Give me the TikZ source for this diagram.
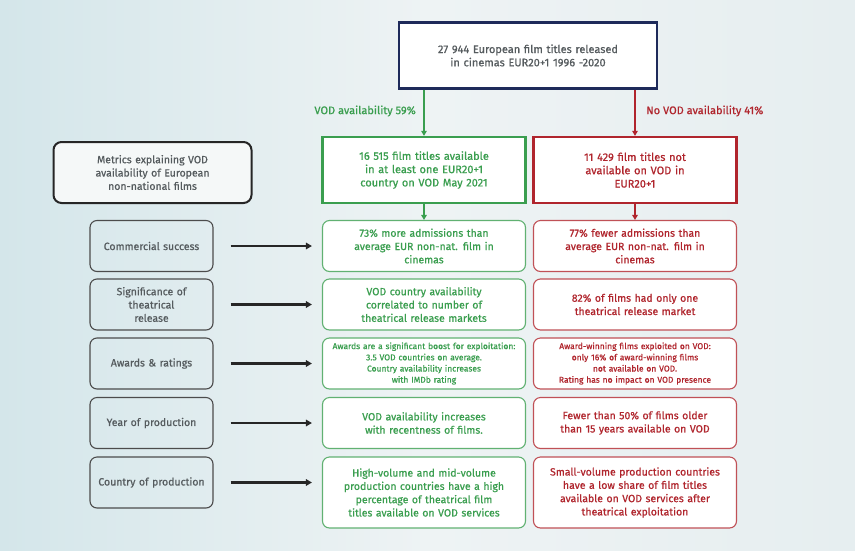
\documentclass[tikz,border=0pt]{standalone}
\usepackage{fontspec}
\setmainfont{Fira Sans}[FakeBold=0.7]
\usetikzlibrary{arrows.meta}
\definecolor{vodgreen}{HTML}{3A9E4F}
\definecolor{vodred}{HTML}{B0252D}
\definecolor{navy}{HTML}{1E2A5A}
\definecolor{txtgray}{HTML}{555B5E}
\definecolor{bgleft}{HTML}{D4E6EA}
\definecolor{bgmid}{HTML}{EEF3F4}
\definecolor{bgright}{HTML}{E6EEF0}
\tikzset{
  base/.style={align=center, inner sep=3pt, font=\fontsize{10.5}{13.3}\selectfont},
  bigtext/.style={font=\fontsize{11}{13.3}\selectfont},
  topbox/.style={base, bigtext, draw=navy, line width=2.2pt, fill=white, text=txtgray, text width=252pt, minimum height=66pt},
  mainbox/.style={base, bigtext, line width=2.2pt, fill=white, text width=197pt, minimum height=66pt},
  factbox/.style={base, rounded corners=7pt, line width=1.1pt, fill=white, text width=197pt, minimum height=51pt},
  smallfact/.style={font=\fontsize{8.5}{11.2}\selectfont},
  metricbox/.style={base, rounded corners=8pt, draw=black!85, line width=2pt, fill=white!40!bgmid, text=txtgray, text width=192pt, minimum height=61pt},
  rowbox/.style={base, rounded corners=7pt, draw=black!70, line width=1.1pt, text=txtgray, text width=117pt, minimum height=51pt},
  lbl/.style={base, bigtext, inner sep=0pt},
  splitarrow/.style={-{Triangle[length=5pt,width=5.5pt]}, line width=1.6pt},
  rowarrow/.style={-{Triangle[length=6pt,width=6.5pt]}, line width=2.2pt, black!85}
}
\begin{document}
\begin{tikzpicture}[x=1pt, y=-1pt]
  % background
  \shade[left color=bgleft, right color=bgright, middle color=bgmid] (0,0) rectangle (855,550);
  \useasboundingbox (0,0) rectangle (855,550);

  % top and split
  \node[topbox] (total) at (528,55.5) {27 944 European film titles released\\in cinemas EUR20+1 1996 -2020};
  \node[mainbox, draw=vodgreen, text=vodgreen] (onvod) at (424,170) {16 515 film titles available\\in at least one EUR20+1\\country on VOD May 2021};
  \node[mainbox, draw=vodred, text=vodred] (novod) at (635,170) {11 429 film titles not\\available on VOD in\\EUR20+1};
  \draw[splitarrow, vodgreen] (total.south -| onvod) -- (onvod.north);
  \draw[splitarrow, vodred] (total.south -| novod) -- (novod.north);
  \node[lbl, text=vodgreen, anchor=east] (onlabel) at (416,111) {VOD availability 59\%};
  \node[lbl, text=vodred, anchor=west] (nolabel) at (646,111) {No VOD availability 41\%};

  \node[metricbox] (metrics) at (152.5,172.5) {Metrics explaining VOD\\availability of European\\non-national films};

  % rows: metric -> findings
  \node[rowbox] (m1) at (151.5,246) {Commercial success};
  \node[factbox, draw=vodgreen!80, text=vodgreen] (g1) at (424,246) {73\% more admissions than\\average EUR non-nat. film in\\cinemas};
  \node[factbox, draw=vodred!80, text=vodred] (r1) at (635,246) {77\% fewer admissions than\\average EUR non-nat. film in\\cinemas};

  \node[rowbox] (m2) at (151.5,304.5) {Significance of\\theatrical\\release};
  \node[factbox, draw=vodgreen!80, text=vodgreen] (g2) at (424,304.5) {VOD country availability\\correlated to number of\\theatrical release markets};
  \node[factbox, draw=vodred!80, text=vodred] (r2) at (635,304.5) {82\% of films had only one\\theatrical release market};

  \node[rowbox] (m3) at (151.5,363.5) {Awards \& ratings};
  \node[factbox, smallfact, draw=vodgreen!80, text=vodgreen] (g3) at (424,363.5) {Awards are a significant boost for exploitation:\\3.5 VOD countries on average.\\Country availability increases\\with IMDb rating};
  \node[factbox, smallfact, draw=vodred!80, text=vodred] (r3) at (635,363.5) {Award-winning films exploited on VOD:\\only 16\% of award-winning films\\not available on VOD.\\Rating has no impact on VOD presence};

  \node[rowbox] (m4) at (151.5,423) {Year of production};
  \node[factbox, draw=vodgreen!80, text=vodgreen] (g4) at (424,423) {VOD availability increases\\with recentness of films.};
  \node[factbox, draw=vodred!80, text=vodred] (r4) at (635,423) {Fewer than 50\% of films older\\than 15 years available on VOD};

  \node[rowbox] (m5) at (151.5,482.5) {Country of production};
  \node[factbox, minimum height=71pt, draw=vodgreen!80, text=vodgreen] (g5) at (424,492.5) {High-volume and mid-volume\\production countries have a high\\percentage of theatrical film\\titles available on VOD services};
  \node[factbox, minimum height=71pt, draw=vodred!80, text=vodred] (r5) at (635,492.5) {Small-volume production countries\\have a low share of film titles\\available on VOD services after\\theatrical exploitation};

  \draw[splitarrow, vodgreen] (onvod) -- (g1);
  \draw[splitarrow, vodred] (novod) -- (r1);
  \draw[rowarrow] ([xshift=17pt]m1.east) -- ([xshift=-10pt]g1.west |- m1);
  \draw[rowarrow] ([xshift=17pt]m2.east) -- ([xshift=-10pt]g2.west |- m2);
  \draw[rowarrow] ([xshift=17pt]m3.east) -- ([xshift=-10pt]g3.west |- m3);
  \draw[rowarrow] ([xshift=17pt]m4.east) -- ([xshift=-10pt]g4.west |- m4);
  \draw[rowarrow] ([xshift=17pt]m5.east) -- ([xshift=-10pt]g5.west |- m5);
\end{tikzpicture}
\end{document}
